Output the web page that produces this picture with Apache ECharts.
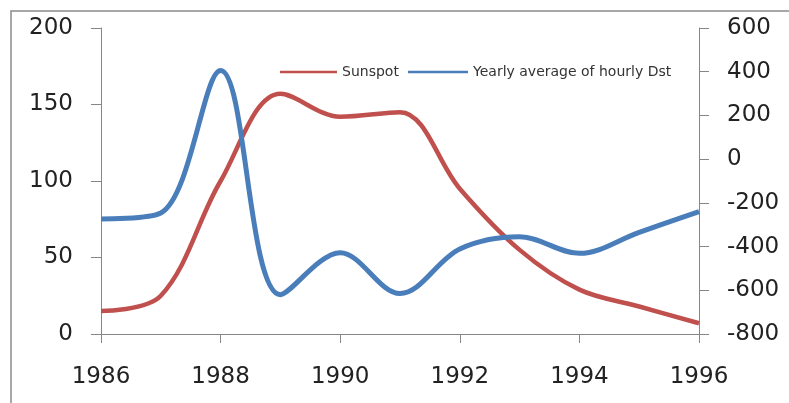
<!DOCTYPE html>
<html><head><meta charset="utf-8">
<script src="https://cdn.jsdelivr.net/npm/echarts@6/dist/echarts.min.js"></script>
<style>html,body{margin:0;padding:0;background:#fff}#c{width:789px;height:403px}</style>
</head><body><div id="c"></div>
<script>
const years = [1986,1987,1988,1989,1990,1991,1992,1993,1994,1995,1996];
const sunspot = [15,25,100,157,142,145,95,55,29,18,7];
const dst = [-274,-246,405,-620,-428,-615,-411,-355,-431,-335,-240];
const xTicks = [1986,1988,1990,1992,1994,1996];
const leftTicks = [0,50,100,150,200];
const rightTicks = [-800,-600,-400,-200,0,200,400,600];

const chart = echarts.init(document.getElementById('c'), null, {renderer:'canvas'});
const axisColor = '#868686';
const font = 'DejaVu Sans';
const yBase = {
  type:'value', splitLine:{show:false},
  axisLine:{show:true, lineStyle:{color:axisColor, width:1}},
  axisTick:{show:true, length:10, lineStyle:{color:axisColor}},
  axisLabel:{fontFamily:font, fontSize:23, color:'#222', margin:28}
};
const legendText = {fontFamily:font, fontSize:14, color:'#333'};
chart.setOption({
  animation:false,
  graphic:[{type:'rect', shape:{x:11, y:11, width:900, height:500}, style:{fill:'none', stroke:'#8a8a8a', lineWidth:1.5}, z:-1}],
  grid:{left:101, right:90, top:28, bottom:69},
  legend:[
    {data:['Sunspot'], left:275, top:60, icon:'rect', itemWidth:57, itemHeight:2.5, textStyle:legendText},
    {data:['Yearly average of hourly Dst'], left:403, top:60, icon:'rect', itemWidth:60, itemHeight:2.5, textStyle:legendText}
  ],
  xAxis:{type:'value', min:xTicks[0], max:xTicks[xTicks.length-1], interval:2,
    splitLine:{show:false},
    axisLine:{lineStyle:{color:axisColor}},
    axisTick:{show:true, length:9, lineStyle:{color:axisColor}},
    axisLabel:{fontFamily:font, fontSize:23, color:'#222', margin:32, formatter:v=>String(v)}},
  yAxis:[
    Object.assign({}, yBase, {min:leftTicks[0], max:leftTicks[leftTicks.length-1], interval:50, position:'left'}),
    Object.assign({}, yBase, {min:rightTicks[0], max:rightTicks[rightTicks.length-1], interval:200, position:'right'})
  ],
  series:[
    {name:'Sunspot', type:'line', yAxisIndex:0, smooth:0.35, showSymbol:false, symbol:'none',
     data:years.map((y,i)=>[y,sunspot[i]]),
     lineStyle:{color:'#C0504D', width:4.5}, itemStyle:{color:'#C0504D'}},
    {name:'Yearly average of hourly Dst', type:'line', yAxisIndex:1, smooth:0.35, showSymbol:false, symbol:'none',
     data:years.map((y,i)=>[y,dst[i]]),
     lineStyle:{color:'#4A7EBB', width:5}, itemStyle:{color:'#4A7EBB'}}
  ]
});
</script></body></html>
